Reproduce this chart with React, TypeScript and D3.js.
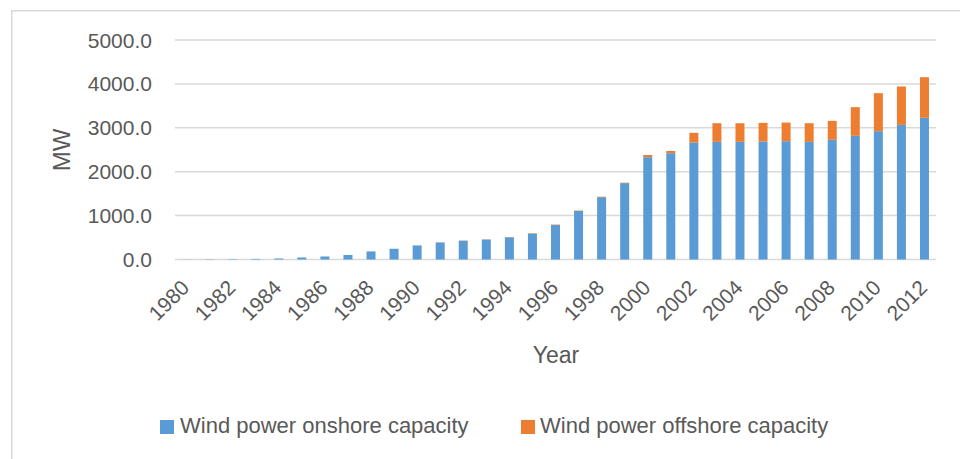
import React from "react";
import * as d3 from "d3";

const years: string[] = d3.range(1980, 2013).map(String);
const onshore: number[] = [
  3, 6, 9, 13, 23, 46, 69, 103, 184, 245, 321, 387, 428, 455, 507, 590, 785,
  1105, 1420, 1740, 2331, 2422, 2665, 2680, 2680, 2688, 2695, 2680, 2726, 2817,
  2923, 3067, 3227,
];
const offshore: number[] = [
  0, 0, 0, 0, 0, 0, 0, 0, 0, 0, 0, 5, 5, 5, 5, 10, 10, 10, 10, 10, 50, 50, 220,
  424, 424, 424, 424, 424, 432, 653, 866, 874, 926,
];
const yTicks: number[] = [0, 1000, 2000, 3000, 4000, 5000];
const seriesNames: string[] = [
  "Wind power onshore capacity",
  "Wind power offshore capacity",
];
const colors = ["#5B9BD5", "#ED7D31"];

export default function App() {
  const W = 960;
  const H = 459;
  const left = 175;
  const right = 936;
  const top = 40;
  const bottom = 259.5;
  const font = "'Liberation Sans', Arial, sans-serif";
  const textColor = "#595959";

  const x = d3.scaleBand<string>().domain(years).range([left, right]).paddingInner(0.61).paddingOuter(0.305);
  const y = d3.scaleLinear().domain([0, 5000]).range([bottom, top]);

  const rows = years.map((yr, i) => ({ yr, onshore: onshore[i], offshore: offshore[i] }));
  const stack = d3.stack<any>().keys(["onshore", "offshore"]);
  const series = stack(rows);

  const step = x.step();
  const bw = 9;

  return (
    <svg
      width={W}
      height={H}
      style={{ position: "absolute", left: 0, top: 0, background: "#fff" }}
      fontFamily={font}
    >
      <rect x={0} y={0} width={W} height={H} fill="#fff" />
      <rect x={11.75} y={10.75} width={W + 10} height={H + 10} fill="none" stroke="#d9d9d9" strokeWidth={1.5} />
      {yTicks.map((t) => (
        <g key={t}>
          <line x1={left} x2={right} y1={y(t)} y2={y(t)} stroke="#d9d9d9" strokeWidth={1.5} />
          <text x={152} y={y(t)} dy="0.36em" textAnchor="end" fontSize={21} fill={textColor}>
            {t.toFixed(1)}
          </text>
        </g>
      ))}
      {series.map((s, si) => (
        <g key={si} fill={colors[si]}>
          {s.map((d, i) => {
            const cx = (x(years[i]) as number) + x.bandwidth() / 2;
            const y0 = y(d[0]);
            const y1 = y(d[1]);
            const h = y0 - y1;
            if (h <= 0) return null;
            return <rect key={i} x={cx - bw / 2} y={y1} width={bw} height={h} />;
          })}
        </g>
      ))}
      {years.map((yr, i) =>
        i % 2 === 0 ? (
          <text
            key={yr}
            transform={`translate(${left + step * (i + 0.5) + 4},289) rotate(-45)`}
            textAnchor="end"
            fontSize={21}
            fill={textColor}
          >
            {yr}
          </text>
        ) : null
      )}
      <text
        transform="translate(70,150) rotate(-90)"
        textAnchor="middle"
        fontSize={24}
        fill={textColor}
      >
        MW
      </text>
      <text x={556} y={363} textAnchor="middle" fontSize={23} fill={textColor}>
        Year
      </text>
      <g>
        <rect x={160} y={420} width={14} height={14} fill={colors[0]} />
        <text x={180} y={433} fontSize={22} fill={textColor}>
          {seriesNames[0]}
        </text>
        <rect x={521} y={420} width={14} height={14} fill={colors[1]} />
        <text x={540} y={433} fontSize={22} fill={textColor}>
          {seriesNames[1]}
        </text>
      </g>
    </svg>
  );
}
